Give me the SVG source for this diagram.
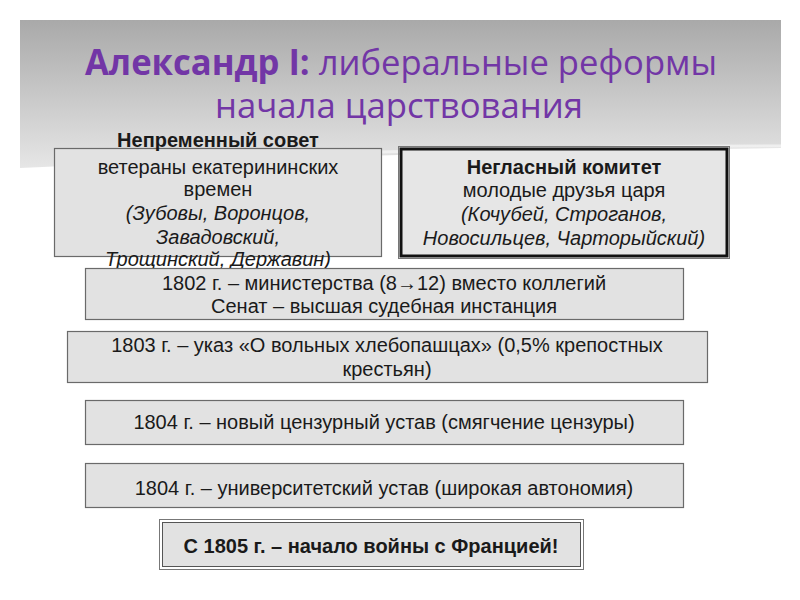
<svg xmlns="http://www.w3.org/2000/svg" width="800" height="600" viewBox="0 0 800 600">
<defs>
<linearGradient id="hdr" x1="0" y1="0" x2="0" y2="1">
<stop offset="0" stop-color="#a9a9a9"/>
<stop offset="1" stop-color="#e6e6e6"/>
</linearGradient>
<style>
.t{font-family:"Liberation Sans",Arial,sans-serif;font-size:20px;fill:#1a1a1a;text-anchor:middle}
.b{font-weight:bold}
.i{font-style:italic}
.box{fill:#e2e2e2;stroke:#6a6a6a;stroke-width:1.2}
.ttl{font-family:"Open Sans","Noto Sans",sans-serif;font-size:35px;fill:#7236a6}
</style>
</defs>
<rect width="800" height="600" fill="#ffffff"/>
<path d="M20,20 H781 V148 Q560,150 300,158 Q120,163 20,168 Z" fill="url(#hdr)"/>
<path d="M380,152 Q600,146 781,146" fill="none" stroke="#f4f4f4" stroke-width="3" opacity="0.8"/>
<g id="title">
<text class="ttl" x="401" y="75" text-anchor="middle" textLength="632" lengthAdjust="spacingAndGlyphs"><tspan font-weight="bold">Александр I:</tspan> либеральные реформы</text>
<text class="ttl" x="399" y="118" text-anchor="middle" textLength="368" lengthAdjust="spacingAndGlyphs">начала царствования</text>
</g>
<g id="nepremenny">
<rect class="box" x="54.5" y="148.5" width="327" height="108"/>
<text class="t b" x="218" y="147">Непременный совет</text>
<text class="t" x="218" y="174">ветераны екатерининских</text>
<text class="t" x="218" y="196">времен</text>
<text class="t i" x="218" y="220">(Зубовы, Воронцов,</text>
<text class="t i" x="218" y="244">Завадовский,</text>
<text class="t i" x="218" y="266">Трощинский, Державин)</text>
</g>
<g id="neglasny">
<rect x="398.5" y="146.5" width="331" height="112" fill="none" stroke="#777" stroke-width="1"/>
<rect x="401" y="149" width="326" height="107" fill="#e6e6e6" stroke="#111" stroke-width="3"/>
<text class="t b" x="564" y="174">Негласный комитет</text>
<text class="t" x="564" y="197">молодые друзья царя</text>
<text class="t i" x="564" y="221">(Кочубей, Строганов,</text>
<text class="t i" x="564" y="245">Новосильцев, Чарторыйский)</text>
</g>
<g id="r1802">
<rect class="box" x="85.5" y="268.5" width="598" height="51"/>
<text class="t" x="384" y="290">1802 г. – министерства (8→12) вместо коллегий</text>
<text class="t" x="384" y="313">Сенат – высшая судебная инстанция</text>
</g>
<g id="r1803">
<rect class="box" x="67.5" y="331.5" width="640" height="51"/>
<text class="t" x="387" y="352">1803 г. – указ «О вольных хлебопашцах» (0,5% крепостных</text>
<text class="t" x="387" y="376">крестьян)</text>
</g>
<g id="r1804a">
<rect class="box" x="85.5" y="400.5" width="598" height="44"/>
<text class="t" x="384" y="429">1804 г. – новый цензурный устав (смягчение цензуры)</text>
</g>
<g id="r1804b">
<rect class="box" x="85.5" y="463.5" width="598" height="44"/>
<text class="t" x="384" y="495">1804 г. – университетский устав (широкая автономия)</text>
</g>
<g id="r1805">
<rect x="159.5" y="519.5" width="424" height="50" fill="none" stroke="#777" stroke-width="1"/>
<rect x="162.5" y="522.5" width="418" height="44" fill="#e2e2e2" stroke="#555" stroke-width="1"/>
<text class="t b" x="371" y="553">С 1805 г. – начало войны с Францией!</text>
</g>
<g id="connectors"/>
</svg>
